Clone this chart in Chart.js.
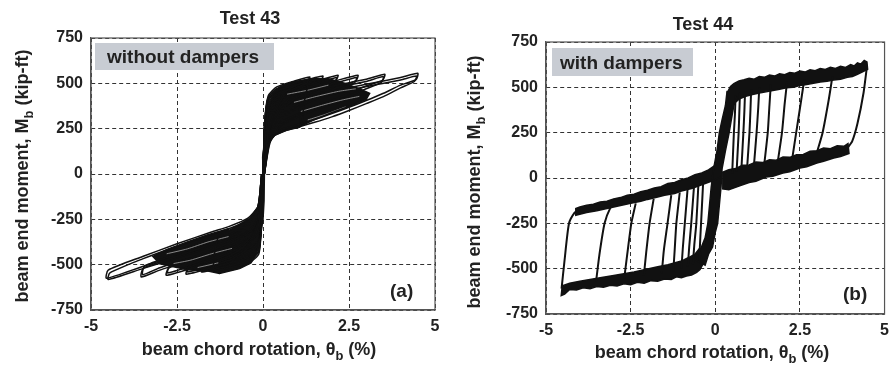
<!DOCTYPE html>
<html>
<head>
<meta charset="utf-8">
<script src="https://cdn.jsdelivr.net/npm/chart.js@4.4.1/dist/chart.umd.min.js"></script>
<style>
  html, body { margin: 0; padding: 0; background: #fff; }
  #wrap { position: relative; width: 896px; height: 365px; overflow: hidden; }
  .pane { position: absolute; top: 0; height: 365px; }
</style>
</head>
<body>
<div id="wrap">
  <div class="pane" style="left:0;width:450px"><canvas id="c43"></canvas></div>
  <div class="pane" style="left:450px;width:446px"><canvas id="c44"></canvas></div>
</div>
<script>
// ---- axis ticks ----
const xTicks = [-5, -2.5, 0, 2.5, 5];
const yTicks = [-750, -500, -250, 0, 250, 500, 750];

// ---- Test 43 (without dampers) ----
// solid core (many small cycles on top of each other)
const t43CorePos = [[0,0],[-0.01,94],[0.05,168],[0.15,351],[0.29,443],[0.49,480],[0.87,507],[1.15,515],[1.3,485],[1.2,400],[1.15,300],[1.07,259],[0.68,241],[0.34,213],[0.15,168],[0.06,94],[0.04,0]];
const t43CoreNeg = [[0.04,0],[0.03,-150],[0.0,-250],[-0.08,-350],[-0.19,-440],[-0.35,-490],[-0.68,-522],[-1.26,-549],[-1.45,-520],[-1.4,-420],[-1.3,-340],[-0.97,-310],[-0.39,-245],[-0.15,-182],[-0.05,-94],[-0.03,0]];
// dense part of the fans, where the loops pack together
const t43FanPos = [[1.0,512],[1.4,525],[1.9,525],[2.3,505],[2.8,470],[3.1,445],[3.0,412],[2.5,372],[2.0,338],[1.5,300],[1.07,262]];
const t43FanNeg = [[-0.97,-300],[-1.6,-335],[-2.2,-375],[-2.8,-418],[-3.2,-455],[-3.0,-495],[-2.6,-512],[-2.2,-528],[-1.6,-535],[-1.26,-549]];
// thin light gaps between packed loops
const t43GapPos1 = [[0.7,440],[1.3,462],[1.9,490]];
const t43GapPos2 = [[0.9,395],[1.5,425],[2.2,456],[2.7,470]];
const t43GapPos3 = [[1.1,345],[1.7,378],[2.3,408],[2.8,428]];
const t43GapPos4 = [[1.3,298],[1.8,328],[2.4,370]];
const t43GapNeg1 = [[-1.0,-345],[-1.6,-375],[-2.2,-413],[-2.8,-440]];
const t43GapNeg2 = [[-0.9,-410],[-1.5,-440],[-2.1,-475],[-2.6,-494]];
const t43GapNeg3 = [[-1.3,-490],[-1.9,-516]];

// positive half cycles, two per amplitude
const t43P1a = [[0,0],[0.05,290],[0.15,430],[0.4,480],[0.9,512],[1.36,535],[1.3,512],[0.95,488],[0.6,445],[0.35,360],[0.15,230],[0.03,0]];
const t43P1b = [[0,0],[0.05,280],[0.15,420],[0.4,468],[0.9,500],[1.33,522],[1.27,500],[0.95,475],[0.6,430],[0.35,345],[0.15,220],[0.03,0]];
const t43P2a = [[0,0],[0.05,280],[0.15,420],[0.4,470],[1.0,505],[1.74,540],[1.68,515],[1.3,490],[0.9,450],[0.5,380],[0.2,250],[0.03,0]];
const t43P2b = [[0,0],[0.05,270],[0.15,410],[0.4,458],[1.0,492],[1.7,527],[1.64,502],[1.3,476],[0.9,435],[0.5,365],[0.2,240],[0.03,0]];
const t43P3a = [[0,0],[0.05,270],[0.15,400],[0.4,455],[1.0,488],[1.6,515],[2.18,545],[2.12,518],[1.6,482],[1.0,425],[0.55,355],[0.2,225],[0.04,0]];
const t43P3b = [[0,0],[0.05,260],[0.15,390],[0.4,443],[1.0,475],[1.6,502],[2.14,532],[2.08,505],[1.6,468],[1.0,410],[0.55,340],[0.2,215],[0.04,0]];
const t43P4a = [[0,0],[0.05,250],[0.15,380],[0.4,435],[1.0,465],[2.0,508],[2.76,545],[2.7,515],[2.0,465],[1.5,425],[1.0,380],[0.5,315],[0.2,205],[0.04,0]];
const t43P4b = [[0,0],[0.05,240],[0.15,370],[0.4,422],[1.0,452],[2.0,495],[2.72,532],[2.66,502],[2.0,450],[1.5,410],[1.0,365],[0.5,300],[0.2,195],[0.04,0]];
const t43P5a = [[0,0],[0.05,230],[0.15,360],[0.4,410],[1.0,440],[2.0,485],[3.0,522],[3.54,550],[3.48,518],[3.0,485],[2.5,445],[2.0,405],[1.5,367],[1.0,330],[0.5,280],[0.2,180],[0.04,0]];
const t43P5b = [[0,0],[0.05,220],[0.15,350],[0.4,398],[1.0,427],[2.0,472],[3.0,510],[3.5,537],[3.44,505],[3.0,470],[2.5,430],[2.0,390],[1.5,352],[1.0,315],[0.5,265],[0.2,170],[0.04,0]];
const t43P6a = [[0,0],[0.06,210],[0.15,335],[0.4,380],[1.0,410],[2.0,455],[3.0,495],[4.0,532],[4.5,555],[4.45,520],[4.0,490],[3.5,445],[3.0,405],[2.5,368],[2.0,333],[1.5,300],[1.0,272],[0.6,250],[0.3,220],[0.1,150],[0.03,0]];
const t43P6b = [[0,0],[0.06,200],[0.15,320],[0.4,365],[1.0,395],[2.0,440],[3.0,482],[4.0,518],[4.46,540],[4.4,510],[4.0,475],[3.5,427],[3.0,388],[2.5,350],[2.0,315],[1.5,285],[1.0,258],[0.68,241],[0.34,213],[0.15,168],[0.03,0]];

// negative half cycles, two per amplitude
const t43N1a = [[0,0],[-0.04,-260],[-0.12,-440],[-0.4,-490],[-0.9,-515],[-1.4,-532],[-1.35,-500],[-0.9,-470],[-0.5,-420],[-0.25,-350],[-0.1,-260],[-0.03,0]];
const t43N1b = [[0,0],[-0.04,-250],[-0.12,-428],[-0.4,-478],[-0.9,-503],[-1.36,-520],[-1.31,-488],[-0.9,-458],[-0.5,-408],[-0.25,-338],[-0.1,-250],[-0.03,0]];
const t43N2a = [[0,0],[-0.04,-250],[-0.12,-420],[-0.4,-470],[-1.0,-505],[-1.79,-540],[-1.73,-505],[-1.2,-470],[-0.7,-420],[-0.35,-360],[-0.15,-270],[-0.03,0]];
const t43N2b = [[0,0],[-0.04,-240],[-0.12,-408],[-0.4,-458],[-1.0,-492],[-1.75,-527],[-1.69,-493],[-1.2,-457],[-0.7,-407],[-0.35,-347],[-0.15,-260],[-0.03,0]];
const t43N3a = [[0,0],[-0.04,-240],[-0.12,-400],[-0.4,-450],[-1.2,-500],[-2.23,-553],[-2.17,-515],[-1.5,-470],[-0.9,-420],[-0.5,-370],[-0.25,-320],[-0.1,-230],[-0.03,0]];
const t43N3b = [[0,0],[-0.04,-230],[-0.12,-388],[-0.4,-438],[-1.2,-487],[-2.19,-540],[-2.13,-502],[-1.5,-457],[-0.9,-407],[-0.5,-357],[-0.25,-308],[-0.1,-220],[-0.03,0]];
const t43N4a = [[0,0],[-0.04,-220],[-0.12,-370],[-0.4,-420],[-1.0,-455],[-2.0,-515],[-2.81,-559],[-2.75,-520],[-2.0,-470],[-1.2,-410],[-0.6,-350],[-0.3,-300],[-0.12,-220],[-0.03,0]];
const t43N4b = [[0,0],[-0.04,-210],[-0.12,-358],[-0.4,-408],[-1.0,-443],[-2.0,-502],[-2.77,-546],[-2.71,-507],[-2.0,-457],[-1.2,-397],[-0.6,-338],[-0.3,-288],[-0.12,-210],[-0.03,0]];
const t43N5a = [[0,0],[-0.05,-200],[-0.15,-330],[-0.4,-370],[-1.0,-410],[-2.0,-470],[-3.0,-530],[-3.54,-568],[-3.48,-520],[-2.5,-455],[-1.5,-385],[-0.8,-330],[-0.4,-280],[-0.15,-200],[-0.04,0]];
const t43N5b = [[0,0],[-0.05,-190],[-0.15,-318],[-0.4,-358],[-1.0,-398],[-2.0,-457],[-3.0,-517],[-3.5,-555],[-3.44,-507],[-2.5,-442],[-1.5,-372],[-0.8,-318],[-0.4,-268],[-0.15,-190],[-0.04,0]];
const t43N6a = [[0,0],[-0.05,-150],[-0.15,-280],[-0.4,-320],[-0.8,-345],[-1.5,-390],[-2.5,-450],[-3.5,-510],[-4.55,-575],[-4.5,-530],[-3.5,-455],[-2.5,-385],[-1.5,-320],[-1.0,-290],[-0.45,-245],[-0.15,-180],[-0.04,0]];
const t43N6b = [[0,0],[-0.05,-160],[-0.15,-292],[-0.4,-332],[-0.8,-357],[-1.5,-402],[-2.5,-462],[-3.5,-522],[-4.5,-582],[-4.45,-545],[-3.5,-468],[-2.5,-398],[-1.5,-333],[-1.0,-302],[-0.45,-257],[-0.15,-190],[-0.04,0]];

// ---- Test 44 (with dampers) ----
// thick noisy bands traced as outlines
const t44Core = [[0.35,480],[0.3,400],[0.2,320],[0.12,250],[0.05,150],[-0.05,50],[-0.12,-50],[-0.17,-150],[-0.22,-250],[-0.3,-330],[-0.45,-400],[-0.6,-450],[-0.3,-480],[-0.2,-420],[-0.08,-380],[0.0,-300],[0.07,-250],[0.12,-150],[0.17,-50],[0.2,50],[0.3,150],[0.41,250],[0.5,350],[0.55,400],[0.65,450]];
const t44PosTop = [[0.35,470],[0.45,505],[0.55,520],[0.7,535],[0.85,542],[1.0,550],[1.15,545],[1.3,560],[1.45,555],[1.6,568],[1.75,562],[1.9,575],[2.05,570],[2.2,582],[2.35,578],[2.5,590],[2.65,584],[2.8,597],[2.95,592],[3.1,604],[3.25,598],[3.4,610],[3.55,604],[3.7,616],[3.85,610],[4.0,625],[4.1,618],[4.2,635],[4.3,628],[4.4,648],[4.48,640],[4.5,600],[4.35,585],[4.2,572],[4.05,560],[3.9,555],[3.7,545],[3.5,540],[3.3,533],[3.1,530],[2.9,522],[2.7,515],[2.5,510],[2.3,500],[2.1,497],[1.9,490],[1.7,482],[1.5,475],[1.3,468],[1.1,460],[0.9,450],[0.7,435],[0.55,410],[0.45,380]];
const t44PosLow = [[0.2,30],[0.4,45],[0.6,52],[0.8,70],[1.0,72],[1.2,88],[1.4,85],[1.6,100],[1.8,98],[2.0,116],[2.2,114],[2.4,128],[2.6,130],[2.8,148],[3.0,150],[3.2,165],[3.4,162],[3.6,178],[3.8,175],[3.92,190],[3.95,135],[3.7,118],[3.5,110],[3.2,92],[3.0,82],[2.7,62],[2.5,55],[2.2,35],[2.0,28],[1.7,10],[1.5,5],[1.2,-18],[1.0,-25],[0.7,-45],[0.4,-65],[0.2,-60]];
const t44NegLow = [[-0.35,-470],[-0.45,-505],[-0.55,-520],[-0.7,-535],[-0.85,-540],[-1.0,-550],[-1.15,-545],[-1.3,-560],[-1.5,-557],[-1.7,-570],[-1.9,-566],[-2.1,-580],[-2.3,-575],[-2.5,-588],[-2.7,-583],[-2.9,-596],[-3.1,-592],[-3.3,-603],[-3.5,-598],[-3.7,-610],[-3.9,-605],[-4.1,-618],[-4.3,-615],[-4.45,-640],[-4.55,-648],[-4.52,-595],[-4.3,-580],[-4.0,-570],[-3.7,-560],[-3.4,-550],[-3.0,-538],[-2.7,-528],[-2.4,-518],[-2.0,-502],[-1.7,-490],[-1.4,-478],[-1.0,-458],[-0.8,-440],[-0.6,-420],[-0.45,-385]];
const t44NegUp = [[0.2,80],[0.0,70],[-0.2,45],[-0.4,28],[-0.6,18],[-0.8,0],[-1.0,-10],[-1.2,-25],[-1.4,-30],[-1.6,-48],[-1.8,-55],[-2.0,-68],[-2.2,-75],[-2.4,-90],[-2.6,-95],[-2.8,-108],[-3.0,-115],[-3.2,-128],[-3.4,-132],[-3.6,-145],[-3.8,-150],[-4.0,-160],[-4.12,-168],[-4.12,-205],[-3.8,-190],[-3.5,-180],[-3.2,-168],[-3.0,-160],[-2.7,-148],[-2.5,-140],[-2.2,-128],[-2.0,-118],[-1.7,-105],[-1.5,-95],[-1.2,-85],[-1.0,-72],[-0.7,-58],[-0.5,-45],[-0.3,-30],[0.0,-10],[0.2,10]];

// unloading branches from the positive plateau
const t44Unload1 = [[4.48,615],[4.38,470],[4.2,300],[4.04,200],[3.9,165]];
const t44Unload2 = [[3.46,560],[3.35,430],[3.17,250],[3.0,140]];
const t44Unload3 = [[2.63,545],[2.53,420],[2.39,250],[2.28,115]];
const t44Unload4 = [[2.12,530],[2.05,410],[1.97,250],[1.85,95]];
const t44Unload5 = [[1.64,515],[1.6,400],[1.55,250],[1.45,80]];
const t44Unload6 = [[1.3,500],[1.27,390],[1.22,250],[1.14,65]];
const t44Unload7 = [[1.06,490],[1.04,380],[1.01,250],[0.94,55]];
const t44Unload8 = [[0.88,480],[0.86,370],[0.83,250],[0.77,45]];
const t44Unload9 = [[0.73,470],[0.71,360],[0.69,250],[0.63,35]];
const t44Unload10 = [[0.6,455],[0.58,350],[0.55,250],[0.5,25]];

// unloading branches from the negative plateau
const t44Reload1 = [[-4.54,-610],[-4.45,-450],[-4.32,-250],[-4.15,-190],[-4.05,-180]];
const t44Reload2 = [[-3.52,-570],[-3.42,-420],[-3.27,-250],[-3.1,-165],[-3.0,-150]];
const t44Reload3 = [[-2.69,-555],[-2.6,-420],[-2.48,-250],[-2.35,-140]];
const t44Reload4 = [[-2.11,-540],[-2.04,-410],[-1.94,-250],[-1.82,-115]];
const t44Reload5 = [[-1.58,-525],[-1.52,-400],[-1.41,-250],[-1.3,-95]];
const t44Reload6 = [[-1.24,-515],[-1.2,-400],[-1.15,-250],[-1.05,-80]];
const t44Reload7 = [[-1.0,-500],[-0.96,-390],[-0.9,-250],[-0.82,-65]];
const t44Reload8 = [[-0.81,-490],[-0.77,-380],[-0.71,-250],[-0.63,-50]];
const t44Reload9 = [[-0.66,-475],[-0.62,-370],[-0.56,-250],[-0.5,-40]];
const t44Reload10 = [[-0.47,-455],[-0.45,-360],[-0.42,-250],[-0.36,-30]];

const FONT = '"Liberation Sans", Arial, sans-serif';
const INK = '#222';

function pts(arr) {
  return arr.map(p => ({ x: p[0], y: p[1] }));
}

function lineSet(arr, width, color) {
  return { data: pts(arr), showLine: true, pointRadius: 0, borderColor: color || '#111', borderWidth: width, fill: false, tension: 0.2 };
}

function polySet(arr) {
  return { data: pts(arr), showLine: true, pointRadius: 0, borderColor: '#111', borderWidth: 1.5, fill: false, polygon: true };
}

// fills datasets marked "polygon" using the points Chart.js placed on its scales,
// drawn before the line datasets so the light gaps stay visible
const polygonFill = {
  id: 'polygonFill',
  beforeDatasetsDraw(chart) {
    const ctx = chart.ctx;
    const a = chart.chartArea;
    ctx.save();
    ctx.beginPath();
    ctx.rect(a.left, a.top, a.right - a.left, a.bottom - a.top);
    ctx.clip();
    chart.data.datasets.forEach((ds, i) => {
      if (!ds.polygon) return;
      const els = chart.getDatasetMeta(i).data;
      ctx.beginPath();
      els.forEach((el, k) => k ? ctx.lineTo(el.x, el.y) : ctx.moveTo(el.x, el.y));
      ctx.closePath();
      ctx.fillStyle = '#111';
      ctx.fill();
    });
    ctx.restore();
  }
};

function richText(ctx, parts, cx, cy, size, rotate) {
  ctx.save();
  ctx.translate(cx, cy);
  if (rotate) ctx.rotate(-Math.PI / 2);
  const fonts = parts.map(p => 'bold ' + (p.sub ? size * 0.72 : size) + 'px ' + FONT);
  let total = 0;
  const widths = parts.map((p, i) => {
    ctx.font = fonts[i];
    const w = ctx.measureText(p.t).width;
    total += w;
    return w;
  });
  let x = -total / 2;
  ctx.textAlign = 'left';
  ctx.textBaseline = 'alphabetic';
  ctx.fillStyle = INK;
  parts.forEach((p, i) => {
    ctx.font = fonts[i];
    ctx.fillText(p.t, x, p.sub ? size * 0.3 : 0);
    x += widths[i];
  });
  ctx.restore();
}

function decorations(d) {
  return {
    id: 'decorations',
    afterDraw(chart) {
      const ctx = chart.ctx;
      const a = chart.chartArea;
      // frame
      ctx.save();
      ctx.strokeStyle = '#555';
      ctx.lineWidth = 1.2;
      ctx.strokeRect(a.left, a.top, a.right - a.left, a.bottom - a.top);
      // panel label box
      ctx.fillStyle = '#c8ccd3';
      ctx.fillRect(d.box[0], d.box[1], d.box[2], d.box[3]);
      ctx.fillStyle = INK;
      ctx.font = 'bold 19px ' + FONT;
      ctx.textAlign = 'left';
      ctx.textBaseline = 'alphabetic';
      ctx.fillText(d.label, d.labelX, d.labelY);
      ctx.fillText(d.tag, d.tagX, d.tagY);
      ctx.font = 'bold 18px ' + FONT;
      ctx.textAlign = 'center';
      ctx.fillText(d.title, d.titleX, d.titleY);
      ctx.restore();
      richText(ctx, [{ t: 'beam end moment, M' }, { t: 'b', sub: true }, { t: ' (kip-ft)' }], d.yTitleX, d.yTitleY, 18, true);
      richText(ctx, [{ t: 'beam chord rotation, \u03b8' }, { t: 'b', sub: true }, { t: ' (%)' }], d.xTitleX, d.xTitleY, 18, false);
    }
  };
}

function axisOpts(fitWidth, fitHeight) {
  const tickFont = { family: FONT, size: 16, weight: 'bold' };
  return {
    x: {
      type: 'linear', min: -5, max: 5,
      afterBuildTicks: s => { s.ticks = xTicks.map(v => ({ value: v })); },
      ticks: { color: INK, font: tickFont, padding: 7, maxRotation: 0 },
      grid: { color: '#333', lineWidth: 1, drawTicks: false },
      border: { display: true, color: '#555', width: 1.2, dash: [4, 3] },
      afterFit: s => { s.height = fitHeight; }
    },
    y: {
      type: 'linear', min: -750, max: 750,
      afterBuildTicks: s => { s.ticks = yTicks.map(v => ({ value: v })); },
      ticks: { color: INK, font: tickFont, padding: 8 },
      grid: { color: '#333', lineWidth: 1, drawTicks: false },
      border: { display: true, color: '#555', width: 1.2, dash: [4, 3] },
      afterFit: s => { s.width = fitWidth; }
    }
  };
}

function baseOptions(pad, fitWidth, fitHeight) {
  return {
    responsive: true,
    maintainAspectRatio: false,
    animation: false,
    layout: { padding: pad },
    plugins: { legend: { display: false }, tooltip: { enabled: false } },
    scales: axisOpts(fitWidth, fitHeight)
  };
}

// Test 43
const t43Lines = [t43P1a, t43P1b, t43P2a, t43P2b, t43P3a, t43P3b, t43P4a, t43P4b, t43P5a, t43P5b, t43P6a, t43P6b,
  t43N1a, t43N1b, t43N2a, t43N2b, t43N3a, t43N3b, t43N4a, t43N4b, t43N5a, t43N5b, t43N6a, t43N6b];
const t43Gaps = [t43GapPos1, t43GapPos2, t43GapPos3, t43GapPos4, t43GapNeg1, t43GapNeg2, t43GapNeg3];
new Chart(document.getElementById('c43'), {
  type: 'scatter',
  data: {
    datasets: [polySet(t43CorePos), polySet(t43CoreNeg), polySet(t43FanPos), polySet(t43FanNeg)]
      .concat(t43Gaps.map(g => lineSet(g, 0.8, '#a8a8a8')))
      .concat(t43Lines.map(l => lineSet(l, 1.5)))
  },
  options: baseOptions({ top: 38, right: 15, left: 0, bottom: 0 }, 91, 55),
  plugins: [polygonFill, decorations({
    title: 'Test 43', titleX: 250, titleY: 24,
    yTitleX: 28, yTitleY: 176,
    xTitleX: 259, xTitleY: 355,
    box: [95, 43, 179, 27], label: 'without dampers', labelX: 107, labelY: 63,
    tag: '(a)', tagX: 390, tagY: 297
  })]
});

// Test 44
const t44Lines = [t44Unload1, t44Unload2, t44Unload3, t44Unload4, t44Unload5, t44Unload6, t44Unload7, t44Unload8, t44Unload9, t44Unload10,
  t44Reload1, t44Reload2, t44Reload3, t44Reload4, t44Reload5, t44Reload6, t44Reload7, t44Reload8, t44Reload9, t44Reload10];
new Chart(document.getElementById('c44'), {
  type: 'scatter',
  data: {
    datasets: [polySet(t44Core), polySet(t44PosTop), polySet(t44PosLow), polySet(t44NegLow), polySet(t44NegUp)]
      .concat(t44Lines.map(l => lineSet(l, 2)))
  },
  options: baseOptions({ top: 42, right: 6, left: 0, bottom: 0 }, 96, 51),
  plugins: [polygonFill, decorations({
    title: 'Test 44', titleX: 253, titleY: 30,
    yTitleX: 30, yTitleY: 182,
    xTitleX: 262, xTitleY: 358,
    box: [102, 48, 141, 28], label: 'with dampers', labelX: 110, labelY: 69,
    tag: '(b)', tagX: 393, tagY: 300
  })]
});
</script>
</body>
</html>
